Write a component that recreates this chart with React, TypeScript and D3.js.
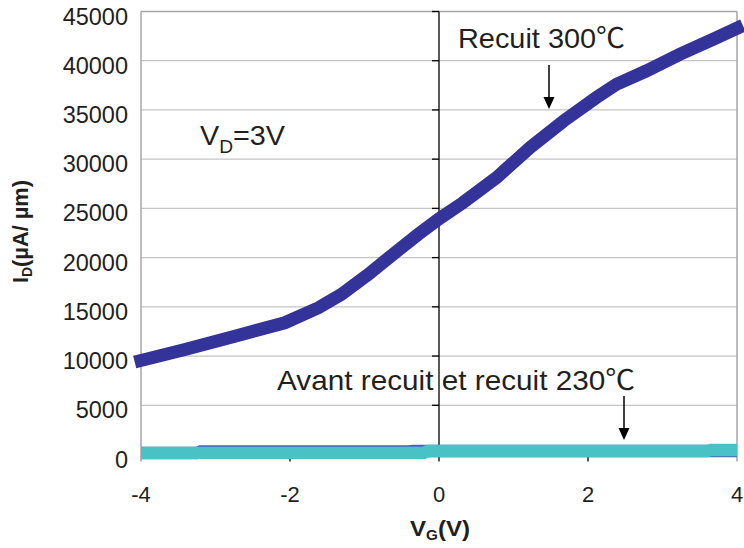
import React from "react";
import * as d3 from "d3";

const vgRecuit300 = [-4.0, -3.41, -2.74, -2.07, -1.62, -1.31, -0.95, -0.59, -0.28, 0.0, 0.32, 0.77, 1.22, 1.67, 2.11, 2.38, 2.78, 3.23, 3.68, 4.0];
const idRecuit300 = [9550, 10670, 12020, 13380, 14900, 16260, 18290, 20500, 22360, 23950, 25570, 28110, 31160, 33870, 36250, 37600, 38950, 40650, 42180, 43300];

const vgAvant = [-4.0, -3.25, -3.2, -0.4, -0.35, 4.0];
const idAvant = [150, 150, 325, 325, 356, 356];

const vg230 = [-4.0, -0.2, -0.15, 3.6, 3.65, 4.0];
const id230 = [170, 170, 356, 356, 458, 458];

const xTicks = [-4, -2, 0, 2, 4];
const yTicks = [0, 5000, 10000, 15000, 20000, 25000, 30000, 35000, 40000, 45000];

const W = 744, H = 548;
const FONT = "'Liberation Sans', Arial, 'Noto Sans CJK SC', sans-serif";
const TXT = "#231f20";

export default function App() {
  const x = d3.scaleLinear().domain([-4, 4]).range([141, 737]);
  const y = d3.scaleLinear().domain([0, 45000]).range([454.5, 11.5]);
  const line = d3.line<[number, number]>().x(d => x(d[0])).y(d => y(d[1]));
  const pts = (a: number[], b: number[]) => a.map((v, i) => [v, b[i]] as [number, number]);

  const x0 = x(-4), x1 = x(4), yTop = y(45000), yBot = y(0);
  const ax = x(0);

  return (
    <svg width={W} height={H} style={{ position: "absolute", left: 0, top: 0, background: "#fff" }} fontFamily={FONT}>
      {/* gridlines */}
      {yTicks.filter(t => t > 0 && t < 45000).map(t => (
        <line key={t} x1={x0} x2={x1} y1={y(t)} y2={y(t)} stroke="#c4c4c4" strokeWidth={1.3} />
      ))}
      {/* frame */}
      <line x1={x0} x2={x1} y1={yTop} y2={yTop} stroke="#a6a6a6" strokeWidth={1.5} />
      <line x1={x0} x2={x0} y1={yTop} y2={yBot + 7} stroke="#a6a6a6" strokeWidth={1.5} />
      <line x1={x1} x2={x1} y1={yTop} y2={yBot + 7} stroke="#a6a6a6" strokeWidth={1.5} />
      {/* x axis */}
      <line x1={x0} x2={x1} y1={yBot} y2={yBot} stroke="#000" strokeWidth={1.3} />
      {xTicks.filter(t => t > -4 && t < 4).map(t => (
        <line key={t} x1={x(t)} x2={x(t)} y1={yBot} y2={yBot + 7} stroke="#000" strokeWidth={1.3} />
      ))}
      {/* y axis at V=0 */}
      <line x1={ax} x2={ax} y1={yTop} y2={yBot} stroke="#000" strokeWidth={1.3} />
      {yTicks.map(t => (
        <line key={t} x1={ax - 7} x2={ax} y1={y(t)} y2={y(t)} stroke="#000" strokeWidth={1.3} />
      ))}

      {/* series */}
      <path d={line(pts(vgRecuit300, idRecuit300)) || ""} fill="none" stroke="#333399" strokeWidth={13} strokeLinecap="square" strokeLinejoin="miter" />
      <path d={line(pts(vgAvant, idAvant)) || ""} fill="none" stroke="#4a5fb8" strokeWidth={12.3} />
      <path d={line(pts(vg230, id230)) || ""} fill="none" stroke="#48c2c4" strokeWidth={12.3} />

      {/* tick labels */}
      {yTicks.map(t => (
        <text key={t} x={128} y={y(t) + 13} textAnchor="end" fontSize={23.5} fill={TXT}>{t}</text>
      ))}
      {xTicks.map(t => (
        <text key={t} x={x(t)} y={502} textAnchor="middle" fontSize={22} fill={TXT}>{t}</text>
      ))}

      {/* axis titles */}
      <text x={410} y={536} fontSize={22} fontWeight="bold" fill={TXT} textLength={60} lengthAdjust="spacingAndGlyphs">
        V<tspan fontSize={14} dy={4}>G</tspan><tspan dy={-4}>(V)</tspan>
      </text>
      <text transform="translate(28,283) rotate(-90)" fontSize={22} fontWeight="bold" fill={TXT} textLength={103} lengthAdjust="spacingAndGlyphs">
        I<tspan fontSize={14} dy={4}>D</tspan><tspan dy={-4}>(µA/ µm)</tspan>
      </text>

      {/* annotations */}
      <text x={200} y={145} fontSize={27} fill={TXT} textLength={85} lengthAdjust="spacingAndGlyphs">
        V<tspan fontSize={18} dy={8}>D</tspan><tspan dy={-8}>=3V</tspan>
      </text>
      <text x={458} y={48} fontSize={28} fill={TXT} textLength={167} lengthAdjust="spacingAndGlyphs">Recuit 300℃</text>
      <text x={277} y={390} fontSize={28} fill={TXT} textLength={358} lengthAdjust="spacingAndGlyphs">Avant recuit et recuit 230℃</text>

      {/* arrows */}
      <line x1={549} x2={549} y1={65} y2={98} stroke="#000" strokeWidth={1.5} />
      <path d="M543.5,97 L554.5,97 L549,109 Z" fill="#000" />
      <line x1={624} x2={624} y1={396} y2={429} stroke="#000" strokeWidth={1.5} />
      <path d="M618.5,428 L629.5,428 L624,440 Z" fill="#000" />
    </svg>
  );
}
